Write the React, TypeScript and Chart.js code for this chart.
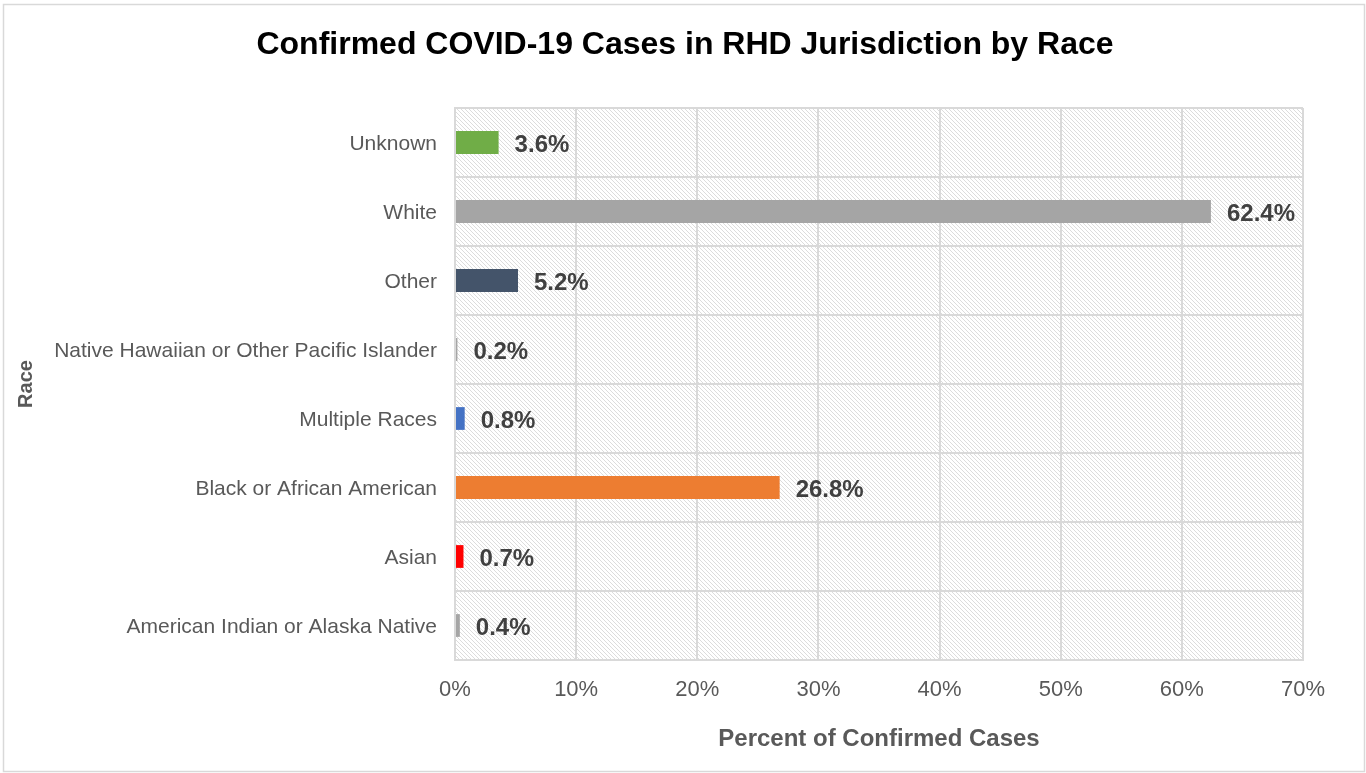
import React, { useEffect, useRef } from "react";
import { Chart, registerables } from "chart.js";

Chart.register(...registerables);

const categories = [
  "Unknown",
  "White",
  "Other",
  "Native Hawaiian or Other Pacific Islander",
  "Multiple Races",
  "Black or African American",
  "Asian",
  "American Indian or Alaska Native",
];
const percentValues = [3.6, 62.4, 5.2, 0.2, 0.8, 26.8, 0.7, 0.4];
const barColors = ["#70ad47", "#a5a5a5", "#44546a", "#a5a5a5", "#4472c4", "#ed7d31", "#ff0000", "#a5a5a5"];
const xTickMax = 70;
const xTickStep = 10;
const titleText = "Confirmed COVID-19 Cases in RHD Jurisdiction by Race";
const xTitle = "Percent of Confirmed Cases";
const yTitle = "Race";

const FONT = "'Liberation Sans', Arial, sans-serif";

function makePattern(): CanvasPattern | string {
  const c = document.createElement("canvas");
  c.width = 8;
  c.height = 8;
  const g = c.getContext("2d");
  if (!g) return "#fff";
  g.fillStyle = "#ffffff";
  g.fillRect(0, 0, 8, 8);
  g.fillStyle = "#dcdcdc";
  for (let i = 0; i < 8; i++) {
    g.fillRect(i, i, 1, 1);
    g.fillRect(i, (i + 4) % 8, 1, 1);
  }
  const ctx = document.createElement("canvas").getContext("2d");
  return (ctx && ctx.createPattern(c, "repeat")) || "#fff";
}

export default function App() {
  const ref = useRef<HTMLCanvasElement | null>(null);

  useEffect(() => {
    const canvas = ref.current;
    if (!canvas) return;
    const pattern = makePattern();

    const bgPlugin = {
      id: "bgPlugin",
      beforeDraw(chart: any) {
        const { ctx, chartArea } = chart;
        ctx.save();
        ctx.fillStyle = "#ffffff";
        ctx.fillRect(0, 0, chart.width, chart.height);
        ctx.strokeStyle = "#d9d9d9";
        ctx.lineWidth = 1.5;
        ctx.strokeRect(3.5, 4.5, chart.width - 5, chart.height - 6);
        ctx.fillStyle = pattern as any;
        ctx.fillRect(chartArea.left, chartArea.top, chartArea.right - chartArea.left, chartArea.bottom - chartArea.top);
        ctx.fillStyle = "#000000";
        ctx.font = `bold 32px ${FONT}`;
        ctx.textAlign = "center";
        ctx.textBaseline = "middle";
        ctx.fillText(titleText, 685, 45);
        ctx.restore();
      },
    };

    const labelPlugin = {
      id: "labelPlugin",
      afterDatasetsDraw(chart: any) {
        const { ctx } = chart;
        const meta = chart.getDatasetMeta(0);
        ctx.save();
        ctx.font = `bold 24px ${FONT}`;
        ctx.fillStyle = "#404040";
        ctx.textAlign = "left";
        ctx.textBaseline = "middle";
        meta.data.forEach((bar: any, i: number) => {
          ctx.fillText(percentValues[i].toFixed(1) + "%", bar.x + 16, bar.y + 3);
        });
        ctx.restore();
      },
    };

    const chart = new Chart(canvas, {
      type: "bar",
      data: {
        labels: categories,
        datasets: [
          {
            data: percentValues,
            backgroundColor: barColors,
            categoryPercentage: 1,
            barPercentage: 0.33,
          },
        ],
      },
      options: {
        indexAxis: "y",
        responsive: false,
        animation: false,
        layout: { padding: { left: 14, top: 108, right: 63, bottom: 12 } },
        plugins: {
          legend: { display: false },
          title: { display: false },
          tooltip: { enabled: false },
        },
        scales: {
          x: {
            min: 0,
            max: xTickMax,
            ticks: {
              stepSize: xTickStep,
              padding: 17,
              color: "#595959",
              font: { family: FONT, size: 22 },
              callback: (v: any) => v + "%",
            },
            grid: { color: "#d9d9d9", lineWidth: 2, drawTicks: false },
            border: { color: "#d9d9d9", width: 2 },
            title: {
              display: true,
              text: xTitle,
              color: "#595959",
              font: { family: FONT, size: 24, weight: "bold" },
              padding: { top: 0, bottom: 7 },
            },
            afterFit: (scale: any) => {
              scale.height = 101;
            },
          },
          y: {
            ticks: {
              padding: 18,
              labelOffset: 2,
              color: "#595959",
              font: { family: FONT, size: 21 },
            },
            grid: { color: "#d9d9d9", lineWidth: 2, drawTicks: false, offset: true },
            border: { color: "#d9d9d9", width: 2 },
            title: {
              display: true,
              text: yTitle,
              color: "#595959",
              font: { family: FONT, size: 20, weight: "bold" },
              padding: { top: 0, bottom: 0 },
            },
            afterFit: (scale: any) => {
              scale.width = 441;
            },
          },
        },
      } as any,
      plugins: [bgPlugin, labelPlugin],
    });
    return () => chart.destroy();
  }, []);

  return (
    <div style={{ position: "absolute", left: 0, top: 0, width: 1366, height: 773 }}>
      <canvas ref={ref} width={1366} height={773} style={{ display: "block" }} />
    </div>
  );
}
